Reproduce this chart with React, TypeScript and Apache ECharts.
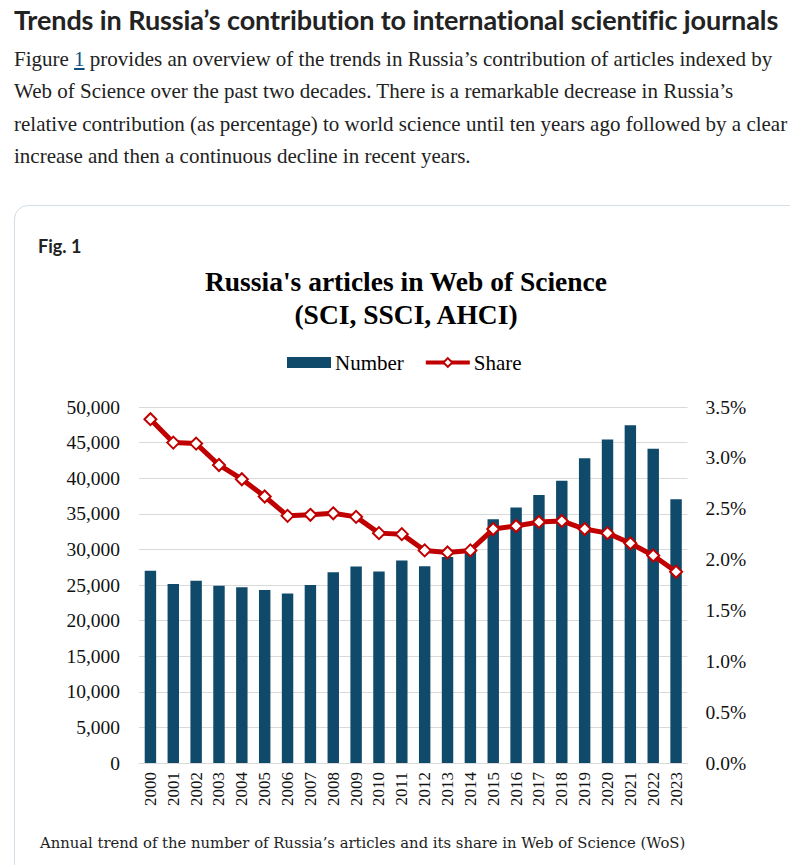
import React, { useEffect, useRef } from "react";
import * as echarts from "echarts";

const years = ["2000","2001","2002","2003","2004","2005","2006","2007","2008","2009","2010","2011","2012","2013","2014","2015","2016","2017","2018","2019","2020","2021","2022","2023"];
const numberValues = [27000,25150,25600,24900,24700,24300,23800,25000,26800,27600,26900,28450,27650,28950,30000,34250,35900,37650,39650,42800,45450,47450,44150,37050];
const shareValues = [3.38,3.15,3.14,2.93,2.79,2.62,2.43,2.44,2.455,2.42,2.26,2.25,2.09,2.07,2.09,2.30,2.33,2.37,2.38,2.30,2.26,2.16,2.04,1.88];
const leftTicks = { min: 0, max: 50000, interval: 5000 };
const rightTicks = { min: 0, max: 3.5, interval: 0.5 };

const paragraphLines = [
  "provides an overview of the trends in Russia\u2019s contribution of articles indexed by",
  "Web of Science over the past two decades. There is a remarkable decrease in Russia\u2019s",
  "relative contribution (as percentage) to world science until ten years ago followed by a clear",
  "increase and then a continuous decline in recent years.",
];

const BAR = "#0f4a6a";
const RED = "#c00000";
const SERIF = "'Liberation Serif', 'Times New Roman', serif";

export default function App() {
  const ref = useRef<HTMLDivElement>(null);
  useEffect(() => {
    document.body.style.margin = "0";
    const chart = echarts.init(ref.current!, null, { renderer: "svg" });
    chart.setOption({
      animation: false,
      graphic: [
        {
          type: "text",
          x: 406,
          y: 31,
          style: {
            text: "Russia's articles in Web of Science",
            font: `bold 27.5px ${SERIF}`,
            fill: "#000",
            textAlign: "center",
            textVerticalAlign: "middle",
          },
        },
        {
          type: "text",
          x: 406,
          y: 64,
          style: {
            text: "(SCI, SSCI, AHCI)",
            font: `bold 27.5px ${SERIF}`,
            fill: "#000",
            textAlign: "center",
            textVerticalAlign: "middle",
          },
        },
      ],
      legend: {
        left: 287,
        top: 102,
        padding: 0,
        itemWidth: 44,
        itemHeight: 11,
        itemGap: 20,
        textStyle: { fontFamily: SERIF, fontSize: 21, color: "#000", padding: [0, 0, 0, -1] },
        data: [
          { name: "Number", icon: "rect" },
          { name: "Share", lineStyle: { width: 4, color: RED } },
        ],
      },
      grid: { left: 139, right: 102.5, top: 157, bottom: 57 },
      xAxis: {
        type: "category",
        data: years,
        boundaryGap: true,
        axisLine: { show: true, lineStyle: { color: "#d9d9d9", width: 1 } },
        axisTick: { show: false },
        axisLabel: {
          rotate: 90,
          margin: 9,
          fontFamily: SERIF,
          fontSize: 17,
          color: "#111",
          interval: 0,
        },
      },
      yAxis: [
        {
          type: "value",
          min: leftTicks.min,
          max: leftTicks.max,
          interval: leftTicks.interval,
          axisLine: { show: false },
          axisTick: { show: false },
          splitLine: { lineStyle: { color: "#d9d9d9", width: 1 } },
          axisLabel: {
            margin: 19,
            fontFamily: SERIF,
            fontSize: 19.5,
            color: "#111",
            formatter: (v: number) => v.toLocaleString("en-US"),
          },
        },
        {
          type: "value",
          min: rightTicks.min,
          max: rightTicks.max,
          interval: rightTicks.interval,
          axisLine: { show: false },
          axisTick: { show: false },
          splitLine: { show: false },
          axisLabel: {
            margin: 18,
            fontFamily: SERIF,
            fontSize: 19.5,
            color: "#111",
            formatter: (v: number) => v.toFixed(1) + "%",
          },
        },
      ],
      series: [
        {
          name: "Number",
          type: "bar",
          data: numberValues,
          barWidth: "50%",
          itemStyle: { color: BAR },
        },
        {
          name: "Share",
          type: "line",
          yAxisIndex: 1,
          data: shareValues,
          symbol: "diamond",
          symbolSize: 12,
          lineStyle: { color: RED, width: 5 },
          itemStyle: { color: "#fff", borderColor: RED, borderWidth: 2 },
          z: 5,
        },
      ],
    });
    return () => chart.dispose();
  }, []);

  return (
    <div style={{ position: "relative", width: 790, height: 865, overflow: "hidden", background: "#fff" }}>
      <div
        style={{
          position: "absolute",
          left: 14,
          top: 3,
          whiteSpace: "nowrap",
          fontFamily: "Lato, 'Open Sans', sans-serif",
          fontWeight: 700,
          fontSize: 27,
          lineHeight: "34px",
          color: "#222",
          letterSpacing: "-0.1px",
        }}
      >
        Trends in Russia’s contribution to international scientific journals
      </div>
      <div
        style={{
          position: "absolute",
          left: 14,
          top: 43,
          fontFamily: SERIF,
          fontSize: 21,
          lineHeight: "32.4px",
          color: "#222",
          whiteSpace: "nowrap",
        }}
      >
        {paragraphLines.map((l, i) => (
          <div key={i}>
            {i === 0 ? (
              <>
                Figure <span style={{ color: "#0b4f82", textDecoration: "underline" }}>1</span> {l}
              </>
            ) : (
              l
            )}
          </div>
        ))}
      </div>
      <div
        style={{
          position: "absolute",
          left: 14,
          top: 205,
          width: 900,
          height: 800,
          border: "1px solid #d3dee7",
          borderRadius: 14,
          boxSizing: "border-box",
        }}
      />
      <div
        style={{
          position: "absolute",
          left: 38,
          top: 235,
          fontFamily: "Lato, 'Open Sans', sans-serif",
          fontWeight: 700,
          fontSize: 18,
          lineHeight: "22px",
          color: "#222",
        }}
      >
        Fig. 1
      </div>
      <div ref={ref} style={{ position: "absolute", left: 0, top: 250, width: 790, height: 570 }} />
      <div
        style={{
          position: "absolute",
          left: 40,
          top: 832,
          whiteSpace: "nowrap",
          fontFamily: "'DejaVu Serif', serif",
          fontSize: 14.8,
          lineHeight: "22px",
          color: "#222",
        }}
      >
        Annual trend of the number of Russia’s articles and its share in Web of Science (WoS)
      </div>
    </div>
  );
}
